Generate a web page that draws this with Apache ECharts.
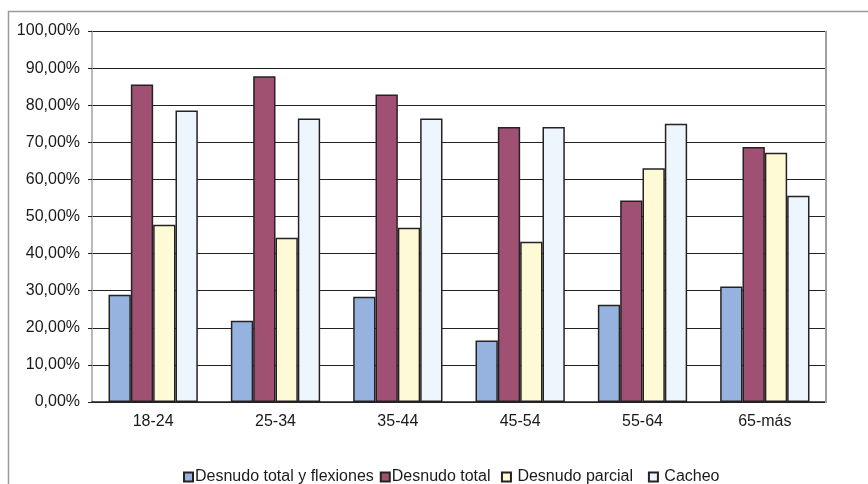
<!DOCTYPE html>
<html>
<head>
<meta charset="utf-8">
<script src="https://cdn.jsdelivr.net/npm/echarts@6/dist/echarts.min.js"></script>
<style>
  html, body { margin: 0; padding: 0; background: #ffffff; }
  #chart { width: 868px; height: 484px; }
</style>
</head>
<body>
<div id="chart"></div>
<script>
// Age groups on the category axis
const categories = ['18-24', '25-34', '35-44', '45-54', '55-64', '65-más'];

// Percentages per search type
const seriesNames = ['Desnudo total y flexiones', 'Desnudo total', 'Desnudo parcial', 'Cacheo'];
const desnudoFlexiones = [28.9, 21.9, 28.4, 16.6, 26.2, 31.1];
const desnudoTotal     = [85.6, 87.8, 82.9, 74.1, 54.3, 68.7];
const desnudoParcial   = [47.8, 44.3, 47.0, 43.2, 63.0, 67.2];
const cacheo           = [78.6, 76.4, 76.4, 74.1, 75.0, 55.6];

const seriesValues = [desnudoFlexiones, desnudoTotal, desnudoParcial, cacheo];
const seriesColors = ['#95b3de', '#a05073', '#fffad6', '#eef6fd'];

// spacing used in the legend entries
const legendText = {
  'Desnudo total y flexiones': 'Desnudo total y flexiones',
  'Desnudo total': 'Desnudo total ',
  'Desnudo parcial': ' Desnudo parcial  ',
  'Cacheo': ' Cacheo'
};

const fontFamily = 'Liberation Sans, Arial, sans-serif';

const chart = echarts.init(document.getElementById('chart'), null, { renderer: 'canvas' });

chart.setOption({
  animation: false,
  backgroundColor: '#ffffff',
  textStyle: { fontFamily: fontFamily },
  graphic: [
    {
      type: 'rect',
      shape: { x: 8.5, y: 11.5, width: 900, height: 520 },
      style: { fill: null, stroke: '#9a9a9a', lineWidth: 1.5 },
      silent: true,
      z: -1
    },
    {
      // right edge of the plotting area
      type: 'line',
      shape: { x1: 826, y1: 31, x2: 826, y2: 403 },
      style: { stroke: '#a0a0a0', lineWidth: 2 },
      silent: true,
      z: 5
    }
  ],
  grid: { left: 92, right: 42, top: 31, bottom: 82, containLabel: false },
  legend: {
    data: seriesNames,
    left: 178,
    top: 464,
    itemWidth: 9,
    itemHeight: 9,
    itemGap: 6,
    formatter: name => legendText[name],
    textStyle: { fontSize: 16, color: '#1a1a1a', fontFamily: fontFamily, padding: [0, 0, 0, -3] },
    icon: 'rect'
  },
  xAxis: {
    type: 'category',
    data: categories,
    axisLine: { show: true, lineStyle: { color: '#222222', width: 1.5 } },
    axisTick: { show: false },
    axisLabel: { fontSize: 16, color: '#1a1a1a', margin: 12, fontFamily: fontFamily },
    splitLine: { show: false }
  },
  yAxis: {
    type: 'value',
    min: 0,
    max: 100,
    interval: 10,
    axisLine: { show: true, lineStyle: { color: '#a0a0a0', width: 1.5 } },
    axisTick: { show: true, length: 4, lineStyle: { color: '#222222' } },
    axisLabel: {
      fontSize: 16,
      color: '#1a1a1a',
      margin: 12,
      fontFamily: fontFamily,
      formatter: v => v.toFixed(2).replace('.', ',') + '%'
    },
    splitLine: { show: true, lineStyle: { color: '#222222', width: 1 } }
  },
  series: seriesNames.map((name, i) => ({
    name: name,
    type: 'bar',
    data: seriesValues[i],
    barGap: '0%',
    barCategoryGap: '27%',
    itemStyle: { color: seriesColors[i], borderColor: '#262224', borderWidth: 1.5 }
  }))
});
</script>
</body>
</html>
